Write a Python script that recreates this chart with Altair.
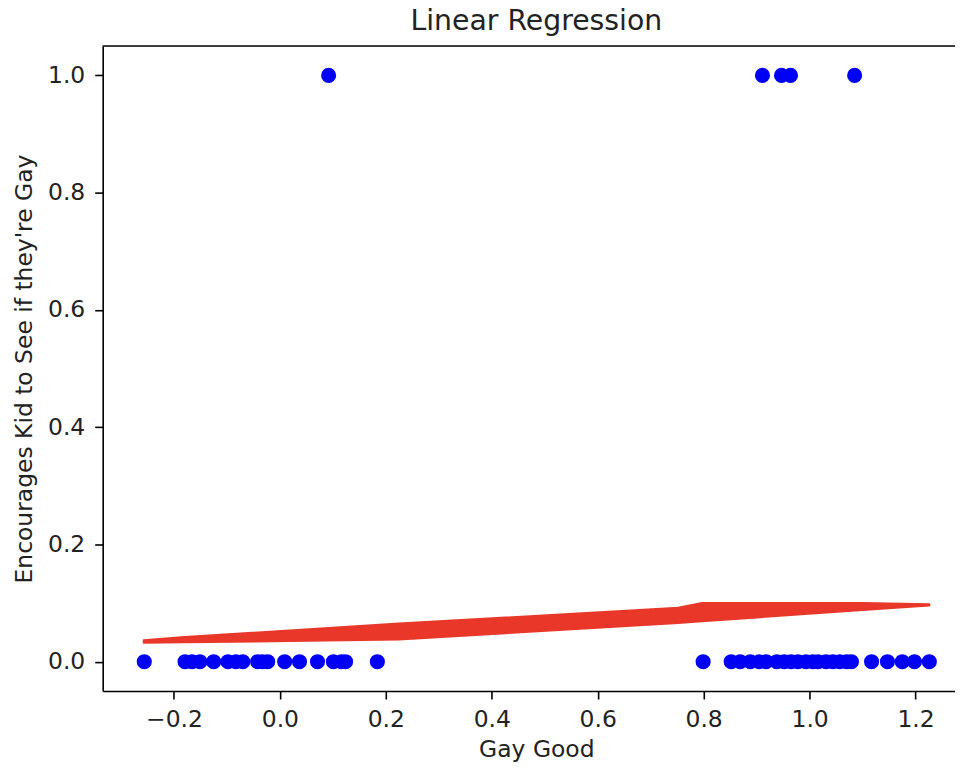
import altair as alt
import pandas as pd

# ---- data ----
pos_x = [0.092, 0.911, 0.947, 0.964, 1.085]          # y = 1
neg_x = [-0.256, -0.179, -0.166, -0.151, -0.125, -0.098, -0.083, -0.070,
         -0.042, -0.033, -0.023, 0.009, 0.037, 0.071, 0.101, 0.116, 0.124,
         0.184, 0.799, 0.852, 0.869, 0.888, 0.905, 0.918, 0.938, 0.952,
         0.965, 0.978, 0.993, 1.006, 1.016, 1.031, 1.044, 1.057, 1.070,
         1.079, 1.117, 1.147, 1.175, 1.198, 1.226]   # y = 0

band_x = [-0.257, -0.18, 0.225, 0.752, 0.797, 1.10, 1.226]
band_lo = [0.0325, 0.0330, 0.0380, 0.0660, 0.0690, 0.0880, 0.0960]
band_hi = [0.0365, 0.0420, 0.0650, 0.0920, 0.1000, 0.1000, 0.0980]

x_ticks = [-0.2, 0.0, 0.2, 0.4, 0.6, 0.8, 1.0, 1.2]
y_ticks = [0.0, 0.2, 0.4, 0.6, 0.8, 1.0]

TITLE = "Linear Regression"

pts = pd.DataFrame({
    "x": pos_x + neg_x,
    "y": [1.0] * len(pos_x) + [0.0] * len(neg_x),
})
band = pd.DataFrame({"x": band_x, "lo": band_lo, "hi": band_hi})

W, H = 855, 647
FONT = "DejaVu Sans"
TXT = "#222222"

xscale = alt.Scale(domain=[-0.3345, 1.2745], nice=False, zero=False)
yscale = alt.Scale(domain=[-0.05, 1.05], nice=False, zero=False)

xaxis = alt.Axis(
    values=x_ticks, format=".1f", grid=False, title="Gay Good",
    labelFont=FONT, labelFontSize=23.5, labelColor=TXT, labelPadding=9,
    tickColor="black", tickWidth=1.6, tickSize=8,
    domainColor="black", domainWidth=1.6,
    titleFont=FONT, titleFontSize=23.5, titleFontWeight="normal", titleColor=TXT,
    titleAlign="center", titleBaseline="alphabetic", titleX=435, titleY=66,
    labelFlush=False,
)
yaxis = alt.Axis(
    values=y_ticks, format=".1f", grid=False,
    title="Encourages Kid to See if they're Gay",
    labelFont=FONT, labelFontSize=23.5, labelColor=TXT, labelPadding=10,
    tickColor="black", tickWidth=1.6, tickSize=8,
    domainColor="black", domainWidth=1.6,
    titleFont=FONT, titleFontSize=23.5, titleFontWeight="normal", titleColor=TXT,
    titleAngle=270, titleAlign="center", titleBaseline="alphabetic",
    titleX=-71, titleY=H / 2, labelFlush=False,
)

points = alt.Chart(pts).mark_circle(size=230, opacity=1, color="#0000f5").encode(
    x=alt.X("x:Q", scale=xscale, axis=xaxis),
    y=alt.Y("y:Q", scale=yscale, axis=yaxis),
)

reg = alt.Chart(band).mark_area(
    color="#e9372a", stroke="#e9372a", strokeWidth=2, opacity=1, strokeJoin="round"
).encode(
    x=alt.X("x:Q", scale=xscale),
    y=alt.Y("lo:Q", scale=yscale),
    y2="hi:Q",
)

top_line = alt.Chart(pd.DataFrame({"a": [0]})).mark_rule(
    color="black", strokeWidth=1.6
).encode(x=alt.value(0), x2=alt.value(W), y=alt.value(0))

title_txt = alt.Chart(pd.DataFrame({"t": [TITLE]})).mark_text(
    font=FONT, fontSize=28.4, color=TXT, align="center", baseline="alphabetic"
).encode(x=alt.value(W / 2 + 7.5), y=alt.value(-16), text="t:N")

chart = alt.layer(points, reg, top_line, title_txt).properties(
    width=W, height=H,
    padding={"left": 95, "top": 37, "right": 0, "bottom": 70},
    autosize=alt.AutoSizeParams(type="none"),
).configure_view(stroke=None).configure(background="white")

chart.save("out.html", embed_options={"renderer": "svg", "actions": False})
